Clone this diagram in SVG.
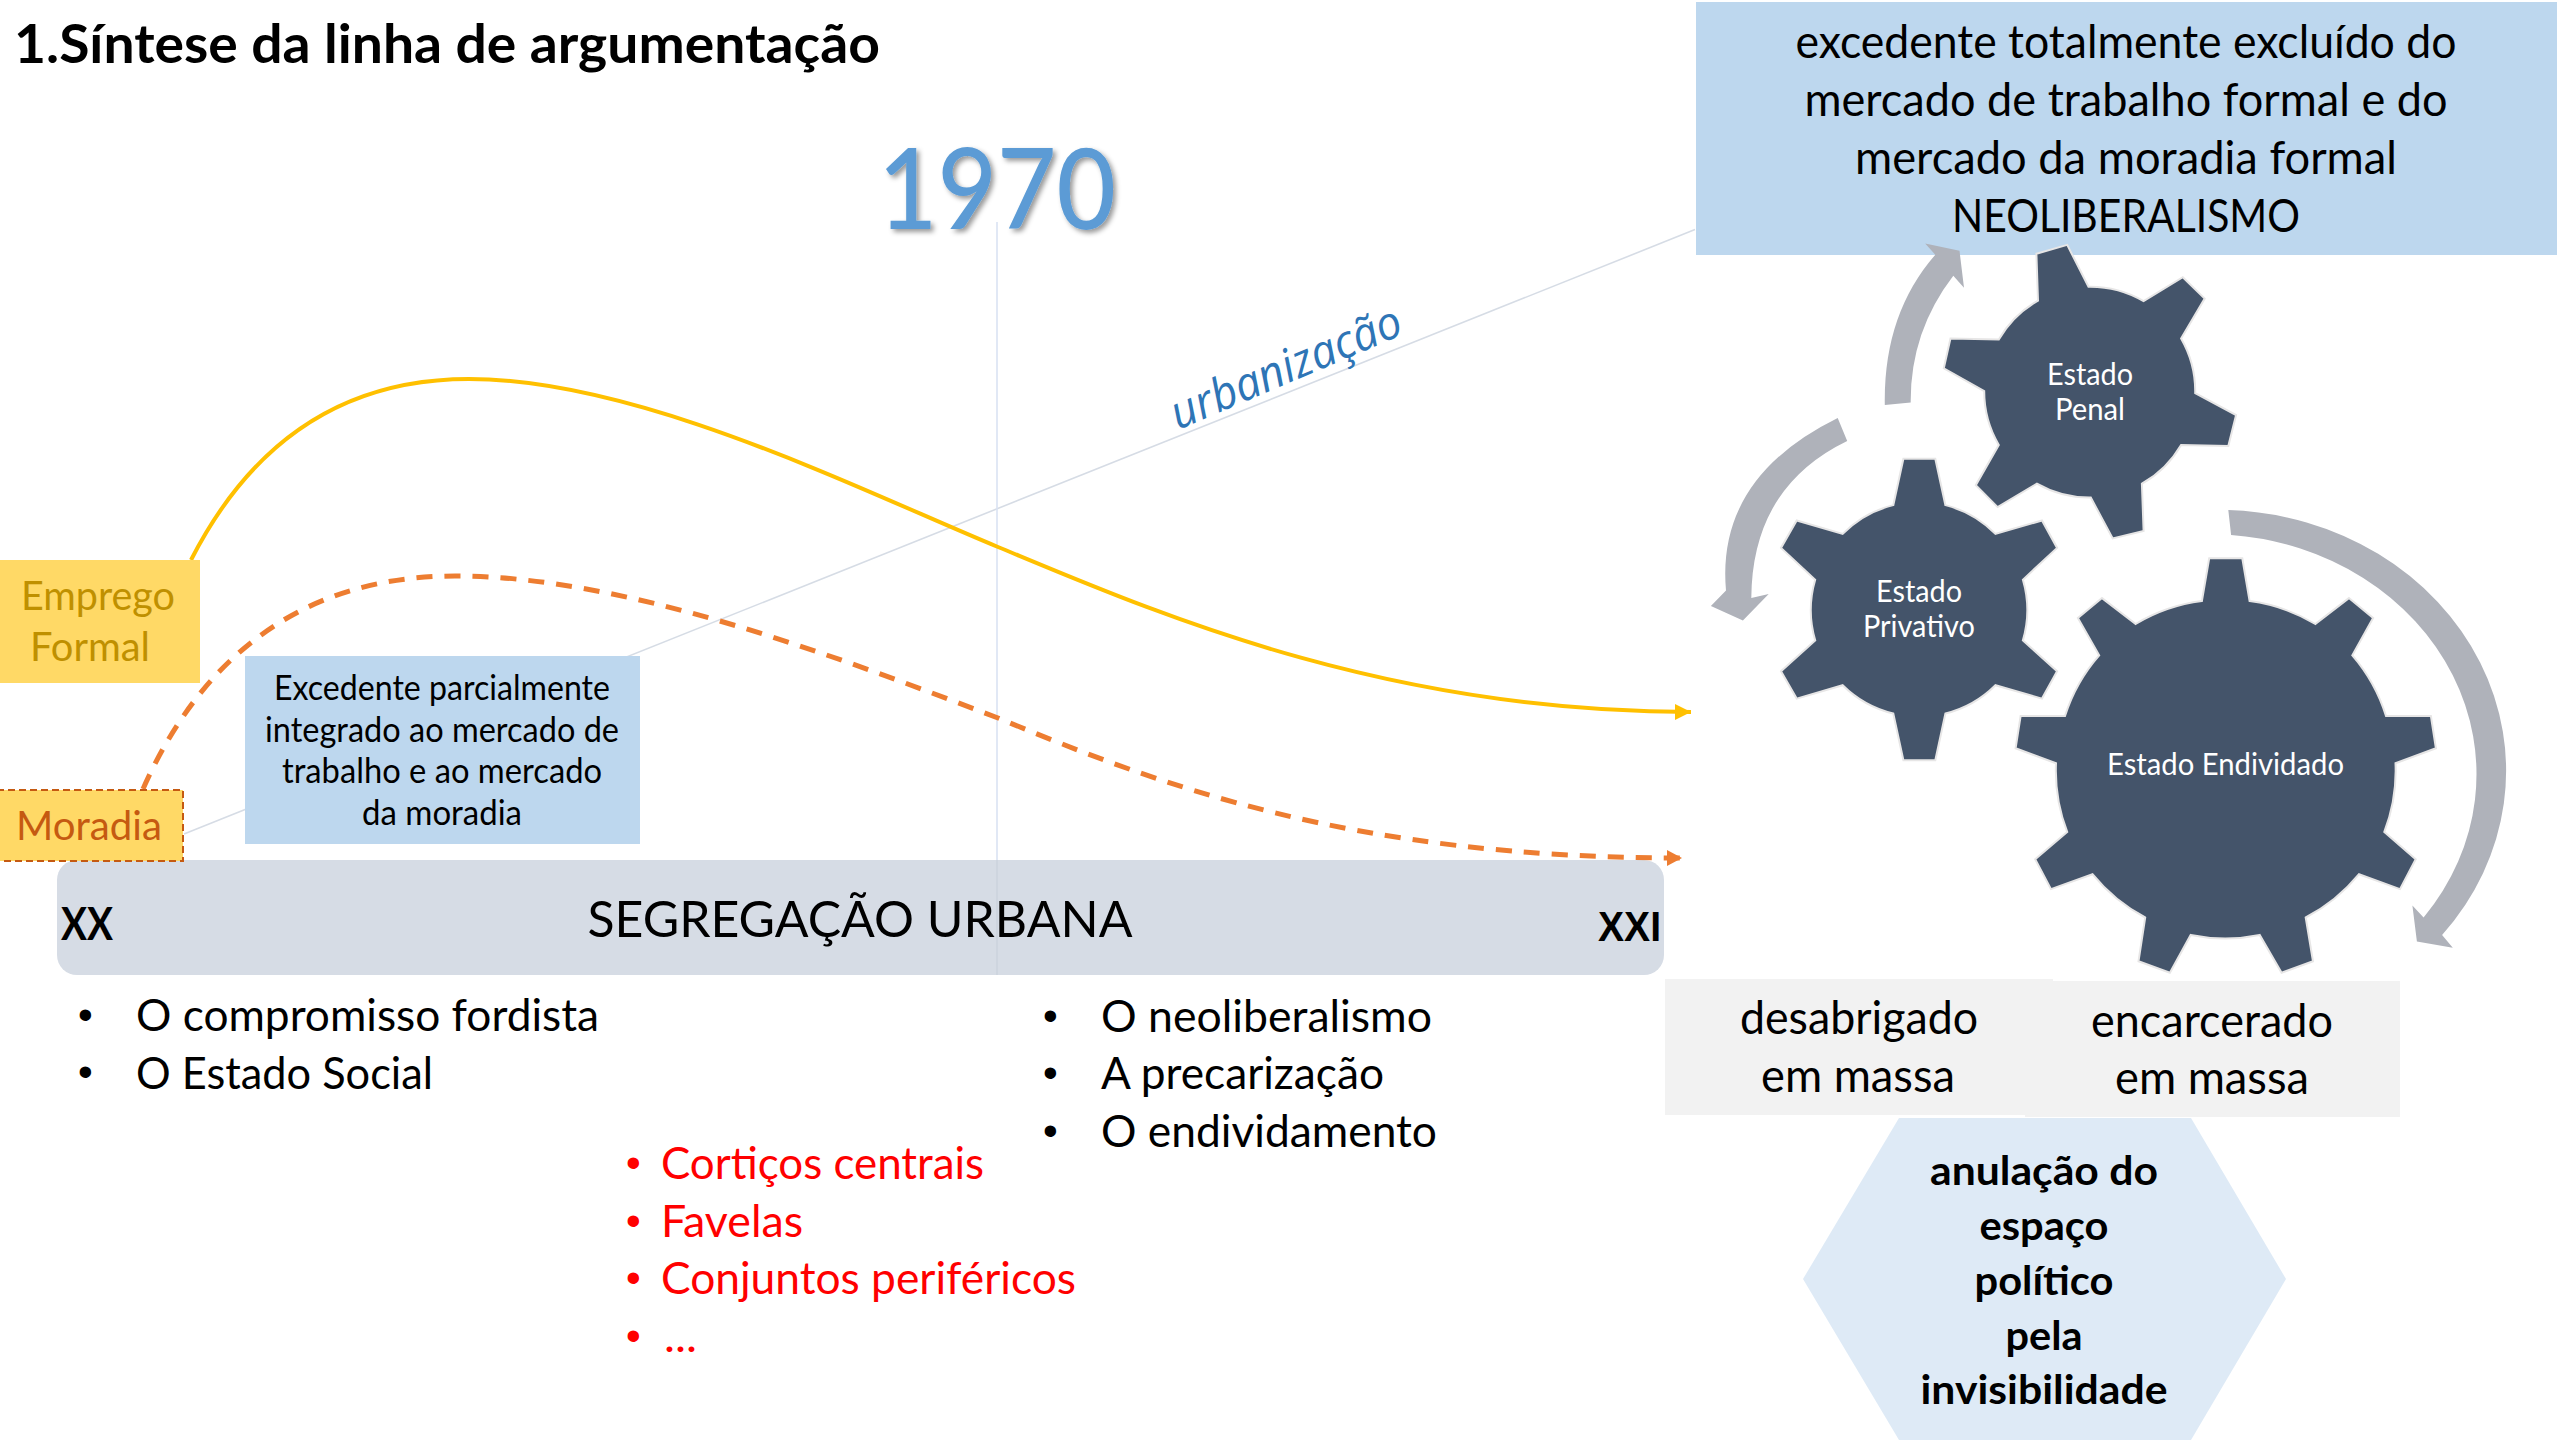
<svg xmlns="http://www.w3.org/2000/svg" width="2560" height="1440" viewBox="0 0 2560 1440">
<style>
text{font-family:"Lato","Liberation Sans",sans-serif;fill:#000}
.m{text-anchor:middle}
.gear{fill:#44546A;stroke:#E7E6E6;stroke-width:2}
.garrow{fill:#AFB2BA}
.gt{fill:#fff;font-size:30px;text-anchor:middle}
.blue{font-size:35px;text-anchor:middle}
.list{font-size:44px}
.bul{font-size:42px;font-family:"Liberation Sans",sans-serif}
.red{fill:#FF0000}
.big{font-size:46px;text-anchor:middle}
.hx{font-size:40px;font-weight:700;text-anchor:middle}
.thin{stroke:#D6DCE5;stroke-width:1.6;fill:none}
</style>
<defs>
<filter id="sh" x="-10%" y="-10%" width="125%" height="125%"><feDropShadow dx="3" dy="3" stdDeviation="2.5" flood-color="#000" flood-opacity="0.4"/></filter>
<marker id="ay" markerUnits="userSpaceOnUse" markerWidth="18" markerHeight="18" refX="16" refY="8" orient="auto"><path d="M0,0L16,8L0,16Z" fill="#FFC000"/></marker>
<marker id="ao" markerUnits="userSpaceOnUse" markerWidth="18" markerHeight="18" refX="15" refY="8" orient="auto"><path d="M0,0L15,8L0,16Z" fill="#ED7D31"/></marker>
</defs>
<rect width="2560" height="1440" fill="#fff"/>
<g id="connectors">
<path class="thin" d="M184,834L1695,229.600"/>
<path d="M997,222V975" stroke="#DAE3F3" stroke-width="1.600" fill="none"/>
</g>
<g id="bar">
<rect x="57" y="860" width="1607" height="115" rx="20" fill="#D6DCE5"/>
<path d="M997,860V975" stroke="#C9D0DB" stroke-width="1.200"/>
<text x="860" y="937" class="m" font-size="51" textLength="545" lengthAdjust="spacingAndGlyphs">SEGREGAÇÃO URBANA</text>
<text x="61" y="940" font-size="45" font-weight="700" textLength="52" lengthAdjust="spacingAndGlyphs">XX</text>
<text x="1598" y="941" font-size="42" font-weight="700" style="font-family:'Liberation Sans',sans-serif" textLength="63" lengthAdjust="spacingAndGlyphs">XXI</text>
</g>
<g id="curves">
<path d="M191,560C260,425 360,379 469,379C640,379 860,490 998,547C1150,610 1380,712 1691,712" fill="none" stroke="#FFC000" stroke-width="4" marker-end="url(#ay)"/>
<path d="M143,789C200,660 300,576 455,576C620,576 820,650 998,718C1160,785 1350,858 1682,858" fill="none" stroke="#ED7D31" stroke-width="5" stroke-dasharray="16 12" marker-end="url(#ao)"/>
</g>
<g id="title"><text x="14" y="63" font-size="53" font-weight="700" textLength="866" lengthAdjust="spacingAndGlyphs">1.Síntese da linha de argumentação</text></g>
<g id="year"><text x="878" y="229" font-size="112" font-weight="500" style="fill:#5B9BD5" filter="url(#sh)" textLength="238" lengthAdjust="spacingAndGlyphs">1970</text></g>
<g id="urbanizacao"><text transform="translate(1178,430) rotate(-23)" font-size="46" font-style="italic" style="fill:#2E75B6;font-family:'Open Sans',sans-serif" textLength="247" lengthAdjust="spacingAndGlyphs">urbanização</text></g>
<g id="neoliberalismo">
<rect x="1696" y="2" width="861" height="253" fill="#BDD7EE"/>
<text x="2126" y="58" class="big" textLength="661" lengthAdjust="spacingAndGlyphs">excedente totalmente excluído do</text>
<text x="2126" y="116" class="big" textLength="643" lengthAdjust="spacingAndGlyphs">mercado de trabalho formal e do</text>
<text x="2126" y="174" class="big" textLength="542" lengthAdjust="spacingAndGlyphs">mercado da moradia formal</text>
<text x="2126" y="232" class="big" textLength="348" lengthAdjust="spacingAndGlyphs">NEOLIBERALISMO</text>
</g>
<g id="emprego">
<rect x="0" y="560" width="200" height="123" fill="#FFD966"/>
<text x="98" y="610" class="m" font-size="41" style="fill:#BF9000" textLength="154" lengthAdjust="spacingAndGlyphs">Emprego</text>
<text x="90" y="661" class="m" font-size="41" style="fill:#BF9000" textLength="120" lengthAdjust="spacingAndGlyphs">Formal</text>
</g>
<g id="moradia">
<rect x="-3" y="790" width="186" height="71" fill="#FFD966" stroke="#C55A11" stroke-width="2" stroke-dasharray="7 4"/>
<text x="16" y="840" font-size="41" style="fill:#C55A11" textLength="146" lengthAdjust="spacingAndGlyphs">Moradia</text>
</g>
<g id="excedente">
<rect x="245" y="656" width="395" height="188" fill="#BDD7EE"/>
<text x="442" y="700" class="blue" textLength="336" lengthAdjust="spacingAndGlyphs">Excedente parcialmente</text>
<text x="442" y="742" class="blue" textLength="354" lengthAdjust="spacingAndGlyphs">integrado ao mercado de</text>
<text x="442" y="783" class="blue" textLength="320" lengthAdjust="spacingAndGlyphs">trabalho e ao mercado</text>
<text x="442" y="825" class="blue" textLength="160" lengthAdjust="spacingAndGlyphs">da moradia</text>
</g>
<g id="lista-esquerda">
<text x="78" y="1029" class="bul">•</text><text x="136" y="1031" class="list" textLength="463" lengthAdjust="spacingAndGlyphs">O compromisso fordista</text>
<text x="78" y="1086" class="bul">•</text><text x="136" y="1089" class="list" textLength="297" lengthAdjust="spacingAndGlyphs">O Estado Social</text>
</g>
<g id="lista-direita">
<text x="1043" y="1030" class="bul">•</text><text x="1101" y="1032" class="list" textLength="331" lengthAdjust="spacingAndGlyphs">O neoliberalismo</text>
<text x="1043" y="1087" class="bul">•</text><text x="1101" y="1089" class="list" textLength="283" lengthAdjust="spacingAndGlyphs">A precarização</text>
<text x="1043" y="1145" class="bul">•</text><text x="1101" y="1147" class="list" textLength="336" lengthAdjust="spacingAndGlyphs">O endividamento</text>
</g>
<g id="lista-vermelha">
<text x="626" y="1177" class="bul red">•</text><text x="661" y="1179" class="list red" textLength="323" lengthAdjust="spacingAndGlyphs">Cortiços centrais</text>
<text x="626" y="1235" class="bul red">•</text><text x="661" y="1237" class="list red" textLength="142" lengthAdjust="spacingAndGlyphs">Favelas</text>
<text x="626" y="1292" class="bul red">•</text><text x="661" y="1294" class="list red" textLength="415" lengthAdjust="spacingAndGlyphs">Conjuntos periféricos</text>
<text x="626" y="1350" class="bul red">•</text><text x="664" y="1352" class="list red" textLength="33" lengthAdjust="spacingAndGlyphs">...</text>
</g>
<g id="encarcerado">
<rect x="2025" y="981" width="375" height="136" fill="#F2F2F2"/>
<text x="2212" y="1037" class="big" textLength="242" lengthAdjust="spacingAndGlyphs">encarcerado</text>
<text x="2212" y="1094" class="big" textLength="194" lengthAdjust="spacingAndGlyphs">em massa</text>
</g>
<g id="desabrigado">
<rect x="1665" y="979" width="388" height="136" fill="#F2F2F2"/>
<text x="1859" y="1034" class="big" textLength="238" lengthAdjust="spacingAndGlyphs">desabrigado</text>
<text x="1858" y="1092" class="big" textLength="194" lengthAdjust="spacingAndGlyphs">em massa</text>
</g>
<g id="anulacao">
<path d="M1803,1279L1899,1118H2191L2286,1279L2191,1440H1899Z" fill="#DEEAF6"/>
<text x="2044" y="1185" class="hx" textLength="228" lengthAdjust="spacingAndGlyphs">anulação do</text>
<text x="2044" y="1240" class="hx" textLength="129" lengthAdjust="spacingAndGlyphs">espaço</text>
<text x="2044" y="1295" class="hx" textLength="139" lengthAdjust="spacingAndGlyphs">político</text>
<text x="2044" y="1350" class="hx" textLength="77" lengthAdjust="spacingAndGlyphs">pela</text>
<text x="2044" y="1404" class="hx" textLength="247" lengthAdjust="spacingAndGlyphs">invisibilidade</text>
</g>
<g id="estado-penal">
<path class="gear" d="M2067.200,244.900L2036.400,253.800L2038,300.600A106,106 0 0 0 1998.800,339.400L1950.500,338.400L1943.800,368.300L1984.200,391.100A106,106 0 0 0 1998.800,444.900L1975.800,485.200L1997.600,507.100L2036.900,483.700A106,106 0 0 0 2090.800,497.600L2112.700,538.400L2143.600,530.900L2141.900,483.700A106,106 0 0 0 2181.100,444.900L2228.300,445.900L2236.100,415L2195.200,393.100A106,106 0 0 0 2181.100,338.400L2204.700,298.600L2182.800,277.200L2143.600,301.100A106,106 0 0 0 2088.500,286.700Z"/>
<text x="2090" y="385" class="gt" textLength="86" lengthAdjust="spacingAndGlyphs">Estado</text>
<text x="2090" y="420" class="gt" textLength="70" lengthAdjust="spacingAndGlyphs">Penal</text>
</g>
<g id="estado-privativo">
<path class="gear" d="M1903.400,458.800L1935.300,458.800L1945.400,505.100A108,108 0 0 1 1995.400,533.900L2042,520.500L2057.100,547.900L2022.900,579.700A108,108 0 0 1 2022.900,640.400L2057.100,671.200L2042,698.600L1995.400,685.200A108,108 0 0 1 1945.400,713.500L1935.300,760.300L1903.400,760.300L1893.300,713.500A108,108 0 0 1 1842.700,685.200L1796.700,698.600L1781,671.200L1815.200,640.400A108,108 0 0 1 1815.200,579.700L1781,547.900L1796.700,520.500L1842.700,533.900A108,108 0 0 1 1893.300,505.100Z"/>
<text x="1919" y="602" class="gt" textLength="86" lengthAdjust="spacingAndGlyphs">Estado</text>
<text x="1919" y="636.500" class="gt" textLength="112" lengthAdjust="spacingAndGlyphs">Privativo</text>
</g>
<g id="estado-endividado">
<path class="gear" d="M2209.200,558.300L2242.300,558.300L2249.600,601.100A170,170 0 0 1 2315.300,624L2348.900,598.100L2373.100,618L2352.300,655.300A170,170 0 0 1 2386,716L2430.900,716L2435.900,748.300L2395.500,763.300A170,170 0 0 1 2384.300,831.900L2415.700,859.300L2400,889.100L2359,874.200A170,170 0 0 1 2305.700,917.500L2313,961.300L2281.600,972.700L2259.700,934.900A170,170 0 0 1 2190.700,934.900L2169.900,972.700L2138.500,961.300L2145.200,917.500A170,170 0 0 1 2092.500,874.200L2051,889.100L2035.200,859.300L2067.200,831.900A170,170 0 0 1 2056,763.300L2015.600,748.300L2020.600,716L2065,716A170,170 0 0 1 2099.200,655.300L2077.900,618L2102,598.100L2135.700,624A170,170 0 0 1 2201.900,601.100Z"/>
<text x="2225.500" y="774.500" class="gt" textLength="237" lengthAdjust="spacingAndGlyphs">Estado Endividado</text>
</g>
<g id="setas">
<path class="garrow" d="M1884.800,405.100L1910.700,402.600Q1910.100,331.900 1953.300,275.700L1964,287.700L1959.500,250.800L1925.200,243.400L1935.300,254.800Q1883.200,314.500 1884.800,405.100Z"/>
<path class="garrow" d="M1837.700,418L1847.200,440.900Q1752,487 1751.300,598.100L1768.700,594.100L1742.900,620.500L1710.900,606.100L1726,590.600Q1716,478 1837.700,418Z"/>
<path class="garrow" d="M2228.300,510A288,261 0 0 1 2442.100,934.900L2452.800,947.800L2416.900,941.400L2412.400,905.600L2423.600,917.500A267,240 0 0 0 2231.100,534.900Z"/>
</g>
</svg>
